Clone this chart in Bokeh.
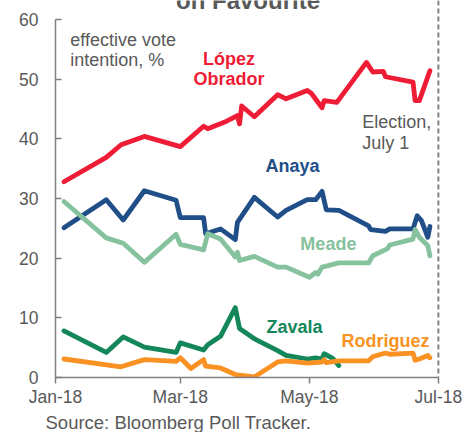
import datetime as dt
import pandas as pd
from bokeh.plotting import figure
from bokeh.models import FixedTicker, DatetimeTickFormatter, Span, Label, Range1d, Title
from bokeh.embed import file_html
from bokeh.resources import INLINE

# ---- data ----
lopez_dates = ["2018-01-05", "2018-01-25", "2018-02-01", "2018-02-12", "2018-03-01", "2018-03-12",
               "2018-03-14", "2018-03-22", "2018-03-28", "2018-03-29", "2018-03-30", "2018-04-05",
               "2018-04-16", "2018-04-20", "2018-04-30", "2018-05-02", "2018-05-07", "2018-05-08",
               "2018-05-14", "2018-05-28", "2018-05-31", "2018-06-05", "2018-06-06", "2018-06-19",
               "2018-06-20", "2018-06-22", "2018-06-27"]
lopez = [32.8, 36.9, 39.0, 40.4, 38.7, 42.1, 41.7, 42.8, 43.9, 42.5, 45.5, 43.7, 47.4, 46.7, 48.1,
         47.6, 45.2, 46.4, 46.1, 52.8, 51.2, 51.3, 50.4, 49.5, 46.4, 46.4, 51.4]

anaya_dates = ["2018-01-05", "2018-01-25", "2018-02-02", "2018-02-12", "2018-02-27", "2018-03-01",
               "2018-03-12", "2018-03-13", "2018-03-20", "2018-03-27", "2018-03-28", "2018-04-05",
               "2018-04-16", "2018-04-20", "2018-04-30", "2018-05-04", "2018-05-07", "2018-05-09",
               "2018-05-15", "2018-05-29", "2018-05-30", "2018-06-06", "2018-06-08", "2018-06-19",
               "2018-06-21", "2018-06-23", "2018-06-26", "2018-06-27"]
anaya = [25.1, 29.8, 26.4, 31.3, 29.7, 26.8, 26.8, 24.1, 24.9, 23.1, 26.0, 30.2, 26.9, 28.0, 29.8,
         29.8, 31.2, 28.1, 28.0, 25.4, 24.8, 24.5, 24.9, 24.9, 27.1, 26.3, 23.5, 25.3]

meade_dates = ["2018-01-05", "2018-01-25", "2018-02-02", "2018-02-12", "2018-02-27", "2018-03-01",
               "2018-03-12", "2018-03-14", "2018-03-20", "2018-03-27", "2018-03-28", "2018-03-29",
               "2018-04-05", "2018-04-16", "2018-04-20", "2018-05-01", "2018-05-04", "2018-05-05",
               "2018-05-07", "2018-05-15", "2018-05-29", "2018-05-31", "2018-06-07", "2018-06-08",
               "2018-06-19", "2018-06-20", "2018-06-22", "2018-06-26", "2018-06-27"]
meade = [29.5, 23.4, 22.5, 19.3, 24.0, 22.3, 21.4, 24.1, 23.2, 20.2, 21.0, 19.6, 20.3, 18.5, 18.5,
         16.8, 17.6, 17.3, 18.5, 19.2, 19.2, 20.4, 21.6, 22.2, 23.2, 24.8, 23.5, 22.1, 20.4]

zavala_dates = ["2018-01-05", "2018-01-25", "2018-02-02", "2018-02-12", "2018-02-27", "2018-03-01",
                "2018-03-12", "2018-03-14", "2018-03-20", "2018-03-27", "2018-03-29", "2018-04-05",
                "2018-04-06", "2018-04-16", "2018-04-20", "2018-04-30", "2018-05-04", "2018-05-07",
                "2018-05-08", "2018-05-12", "2018-05-15"]
zavala = [7.8, 4.2, 6.8, 5.1, 4.2, 5.8, 4.6, 5.5, 6.9, 11.7, 8.2, 6.5, 6.3, 4.5, 3.7, 3.1, 3.3, 3.1,
          4.0, 3.2, 2.0]

rodriguez_dates = ["2018-01-05", "2018-02-01", "2018-02-12", "2018-02-27", "2018-03-01", "2018-03-06",
                   "2018-03-12", "2018-03-13", "2018-03-20", "2018-03-27", "2018-04-05", "2018-04-16",
                   "2018-04-20", "2018-04-30", "2018-05-07", "2018-05-08", "2018-05-09", "2018-05-15",
                   "2018-05-29", "2018-05-31", "2018-06-06", "2018-06-08", "2018-06-19", "2018-06-20",
                   "2018-06-22", "2018-06-26", "2018-06-27"]
rodriguez = [3.1, 1.8, 3.0, 2.7, 3.3, 1.5, 3.0, 1.9, 1.6, 0.5, 0.1, 2.6, 2.8, 2.4, 2.6, 3.0, 2.5, 2.8,
             2.8, 3.5, 4.1, 3.9, 4.1, 2.9, 3.1, 3.7, 3.3]

x_tick_dates = ["2018-01-01", "2018-03-01", "2018-05-01", "2018-07-01"]
y_ticks = [0, 10, 20, 30, 40, 50, 60]
election_date = "2018-07-01"


def ms(s):
    return dt.datetime.fromisoformat(s).replace(tzinfo=dt.timezone.utc).timestamp() * 1000.0


FONT = "Liberation Sans"
GREY = "#595959"
AXIS = "#808080"

p = figure(width=476, height=432, x_axis_type="datetime", output_backend="svg",
           toolbar_location=None,
           x_range=Range1d(ms("2018-01-01"), ms("2018-07-02")),
           y_range=Range1d(0, 63.18),
           min_border_left=55, min_border_right=36, min_border_top=0, min_border_bottom=55)
p.outline_line_color = None
p.xgrid.visible = False
p.ygrid.visible = False
p.background_fill_color = "white"
p.border_fill_color = "white"

# axes
ya = p.yaxis[0]
ya.ticker = FixedTicker(ticks=y_ticks)
ya.bounds = (0, 60)
ya.major_tick_in = 6
ya.major_tick_out = 0
ya.minor_tick_line_color = None
ya.axis_line_color = AXIS
ya.axis_line_width = 1.5
ya.major_tick_line_color = AXIS
ya.major_tick_line_width = 1.5
ya.major_label_text_font = FONT
ya.major_label_text_font_size = "17.5px"
ya.major_label_text_color = GREY
ya.major_label_standoff = 17

xa = p.xaxis[0]
xa.ticker = FixedTicker(ticks=[ms(d) for d in x_tick_dates])
xa.bounds = (ms("2018-01-01"), ms("2018-07-01"))
fmt = "%b-%y"
xa.formatter = DatetimeTickFormatter(milliseconds=fmt, seconds=fmt, minsec=fmt, minutes=fmt,
                                     hourmin=fmt, hours=fmt, days=fmt, months=fmt, years=fmt)
xa.major_tick_in = 0
xa.major_tick_out = 6
xa.minor_tick_line_color = None
xa.axis_line_color = AXIS
xa.axis_line_width = 1.5
xa.major_tick_line_color = AXIS
xa.major_tick_line_width = 1.5
xa.major_label_text_font = FONT
xa.major_label_text_font_size = "17.5px"
xa.major_label_text_color = GREY
xa.major_label_text_line_height = 1.0
xa.major_label_standoff = 3

# source note below the axis
p.add_layout(Title(text="Source: Bloomberg Poll Tracker.", align="left", offset=-10, standoff=0,
                   text_font=FONT, text_font_size="18.5px", text_font_style="normal",
                   text_line_height=1.0, text_color=GREY), "below")

# election marker
p.add_layout(Span(location=ms(election_date), dimension="height", line_color=AXIS,
                  line_dash="5 3", line_width=2))

series = [
    (zavala_dates, zavala, "#13875A"),
    (rodriguez_dates, rodriguez, "#F99222"),
    (anaya_dates, anaya, "#1F4E89"),
    (meade_dates, meade, "#86C29E"),
    (lopez_dates, lopez, "#EE1C35"),
]
for dts, vals, col in series:
    p.line(pd.to_datetime(dts), vals, line_color=col, line_width=4.8, line_join="round",
           line_cap="round")


def lab(text, date, y, color=GREY, bold=False, align="left", size="18px"):
    p.add_layout(Label(x=ms(date), y=y, text=text, text_font=FONT, text_font_size=size,
                       text_color=color, text_align=align, text_baseline="alphabetic",
                       text_font_style="bold" if bold else "normal"))


lab("on Favourite", "2018-04-02", 63.1, GREY, True, "center", "24px")
lab("effective vote", "2018-01-08", 56.5)
lab("intention, %", "2018-01-08", 53.2)
lab("López", "2018-03-24", 53.3, "#EE1C35", True, "center")
lab("Obrador", "2018-03-24", 50.0, "#EE1C35", True, "center")
lab("Election,", "2018-05-26", 42.8)
lab("July 1", "2018-05-26", 39.3)
lab("Anaya", "2018-04-23", 35.5, "#1F4E89", True, "center")
lab("Meade", "2018-05-10", 22.3, "#86C29E", True, "center")
lab("Zavala", "2018-04-24", 8.4, "#13875A", True, "center")
lab("Rodriguez", "2018-06-06", 6.1, "#F99222", True, "center")

open("out.html", "w").write(file_html(p, INLINE))
